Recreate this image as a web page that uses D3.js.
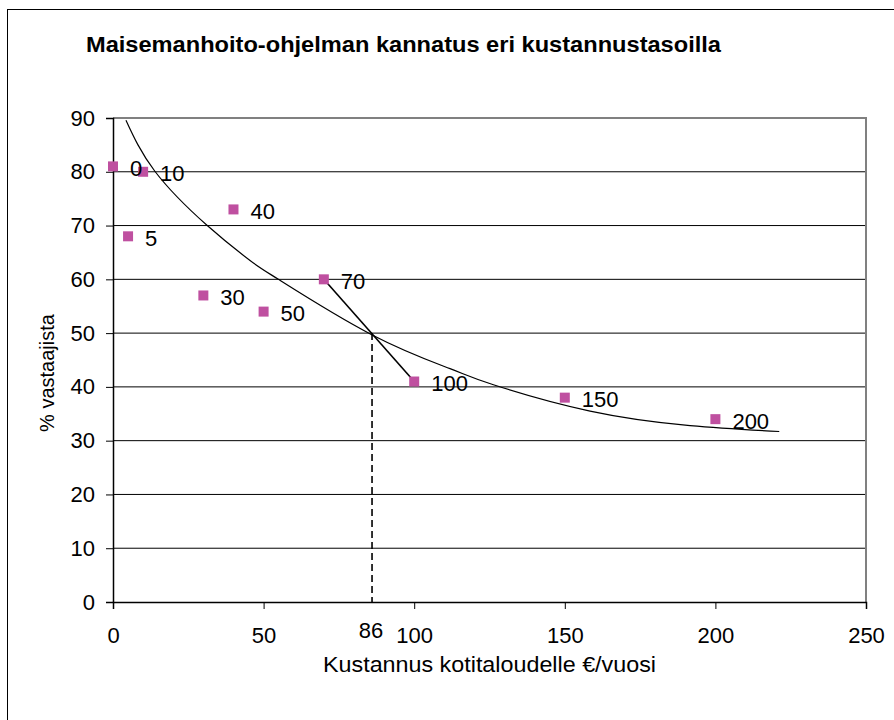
<!DOCTYPE html>
<html>
<head>
<meta charset="utf-8">
<script src="https://cdn.jsdelivr.net/npm/d3@7"></script>
<style>
  body { margin: 0; background: #fff; }
  text { font-family: "Liberation Sans", Arial, sans-serif; }
</style>
</head>
<body>
<div id="chart"></div>
<script>
// data
var costs   = [0, 5, 10, 30, 40, 50, 70, 100, 150, 200];   // € / year (also the point labels)
var support = [81, 68, 80, 57, 73, 54, 60, 41, 38, 34];     // % of respondents

var trendX = [4.3, 13.9, 31.1, 45.5, 54.9, 85.9, 111.9, 126.3, 158.4, 191.6, 221.2];
var trendY = [89.6, 80.1, 70.1, 63.5, 60.0, 49.7, 43.4, 40.4, 35.5, 32.8, 31.7];

var xTicks = [0, 50, 100, 150, 200, 250];
var yTicks = [0, 10, 20, 30, 40, 50, 60, 70, 80, 90];
var crossCost = 86, crossLevel = 50;   // 50 % level between the 70 and 100 points

var W = 894, H = 720;
var margin = {top: 118, right: 28, bottom: 118, left: 113};

var svg = d3.select("#chart").append("svg")
    .attr("width", W)
    .attr("height", H);

// outer chart frame (right/bottom edges fall outside the picture)
svg.append("rect")
    .attr("x", 7.5).attr("y", 9.5)
    .attr("width", 1000).attr("height", 1000)
    .attr("fill", "none")
    .attr("stroke", "#000")
    .attr("stroke-width", 1);

var x = d3.scaleLinear().domain([0, 250]).range([margin.left, W - margin.right]);
var y = d3.scaleLinear().domain([0, 90]).range([H - margin.bottom, margin.top]);

// horizontal gridlines
svg.append("g")
  .selectAll("line")
  .data(yTicks.filter(function(d) { return d > 0 && d < 90; }))
  .enter().append("line")
    .attr("x1", x(0)).attr("x2", x(250))
    .attr("y1", function(d) { return y(d); })
    .attr("y2", function(d) { return y(d); })
    .attr("stroke", "#000")
    .attr("stroke-width", 1);

// plot area border (top + right, grey)
svg.append("path")
    .attr("d", "M" + x(0) + "," + y(90) + "H" + x(250) + "V" + y(0))
    .attr("fill", "none")
    .attr("stroke", "#808080")
    .attr("stroke-width", 2);

// axes
var yAxis = d3.axisLeft(y).tickValues(yTicks).tickSize(7).tickPadding(11);
var gy = svg.append("g")
    .attr("transform", "translate(" + x(0) + ",0)")
    .call(yAxis);
gy.selectAll("text").style("font-size", "22px").attr("fill", "#000");

var xAxis = d3.axisBottom(x).tickValues(xTicks).tickSize(7).tickPadding(18);
var gx = svg.append("g")
    .attr("transform", "translate(0," + y(0) + ")")
    .call(xAxis);
gx.selectAll("text").style("font-size", "22px").attr("fill", "#000");

svg.selectAll(".domain").attr("stroke", "#000").attr("stroke-width", 1.5);
svg.selectAll(".tick line").attr("stroke", "#000");

// the interpolated cost at 50 %
svg.append("text")
    .attr("x", x(crossCost) - 1)
    .attr("y", y(0) + 36)
    .attr("text-anchor", "middle")
    .style("font-size", "22px")
    .text(crossCost);

// trend curve
var trend = trendX.map(function(d, i) { return [d, trendY[i]]; });
svg.append("path")
    .datum(trend)
    .attr("fill", "none")
    .attr("stroke", "#000")
    .attr("stroke-width", 1.2)
    .attr("d", d3.line()
        .x(function(d) { return x(d[0]); })
        .y(function(d) { return y(d[1]); })
        .curve(d3.curveNatural));

// line between the 70 and 100 points
var i70 = costs.indexOf(70), i100 = costs.indexOf(100);
svg.append("line")
    .attr("x1", x(costs[i70])).attr("y1", y(support[i70]))
    .attr("x2", x(costs[i100])).attr("y2", y(support[i100]))
    .attr("stroke", "#000")
    .attr("stroke-width", 1.6);

// dashed drop line
svg.append("line")
    .attr("x1", x(crossCost)).attr("y1", y(crossLevel))
    .attr("x2", x(crossCost)).attr("y2", y(0))
    .attr("stroke", "#000")
    .attr("stroke-width", 1.6)
    .attr("stroke-dasharray", "7,4");

// markers
var pts = costs.map(function(d, i) { return {c: d, v: support[i]}; });
svg.append("g")
  .selectAll("rect")
  .data(pts)
  .enter().append("rect")
    .attr("x", function(d) { return x(d.c) - 5; })
    .attr("y", function(d) { return y(d.v) - 5; })
    .attr("width", 10).attr("height", 10)
    .attr("fill", "#bf50a0");

// point labels
svg.append("g")
  .selectAll("text")
  .data(pts)
  .enter().append("text")
    .attr("x", function(d) { return x(d.c) + 17; })
    .attr("y", function(d) { return y(d.v) + 2; })
    .attr("dy", "0.35em")
    .style("font-size", "22px")
    .text(function(d) { return d.c; });

// title
svg.append("text")
    .attr("x", 86)
    .attr("y", 52)
    .attr("textLength", 635)
    .attr("lengthAdjust", "spacingAndGlyphs")
    .style("font-size", "22px")
    .style("font-weight", "bold")
    .text("Maisemanhoito-ohjelman kannatus eri kustannustasoilla");

// axis titles
svg.append("text")
    .attr("x", 323)
    .attr("y", 672)
    .attr("textLength", 333)
    .attr("lengthAdjust", "spacingAndGlyphs")
    .style("font-size", "22px")
    .text("Kustannus kotitaloudelle €/vuosi");

svg.append("text")
    .attr("transform", "translate(54,373) rotate(-90)")
    .attr("text-anchor", "middle")
    .style("font-size", "20px")
    .text("% vastaajista");
</script>
</body>
</html>
